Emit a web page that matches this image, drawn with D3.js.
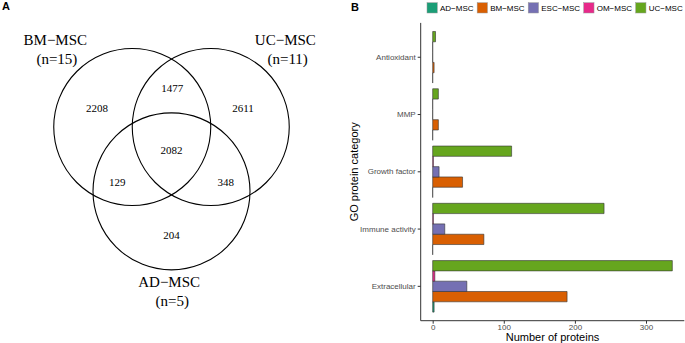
<!DOCTYPE html>
<html lang="en">
<head>
<meta charset="utf-8">
<script src="https://d3js.org/d3.v7.min.js"></script>
<style>
  body { margin: 0; background: #fff; }
  svg { display: block; }
</style>
</head>
<body>
<script>
// ---- data: panel A (Venn) ----
const vennSets = ["BM\u2212MSC", "UC\u2212MSC", "AD\u2212MSC"];
const vennSetN = ["(n=15)", "(n=11)", "(n=5)"];
const vennRegions = ["BM only", "BM+UC", "UC only", "all", "BM+AD", "UC+AD", "AD only"];
const vennCounts = [2208, 1477, 2611, 2082, 129, 348, 204];

// ---- data: panel B (bars) ----
const categories = ["Antioxidant", "MMP", "Growth factor", "Immune activity", "Extracellular"];
const groups = ["AD\u2212MSC", "BM\u2212MSC", "ESC\u2212MSC", "OM\u2212MSC", "UC\u2212MSC"];
const groupColors = ["#1B9E77", "#D95F02", "#7570B3", "#E7298A", "#66A61E"];
const adValues  = [0, 0, 0, 0, 2];
const bmValues  = [2, 8, 42, 72, 189];
const escValues = [0, 0, 9, 17, 48];
const omValues  = [0, 0, 1, 1, 3];
const ucValues  = [4, 8, 111, 241, 337];
const xTicks = [0, 100, 200, 300];

const W = 685, H = 343;
const svg = d3.select("body").append("svg").attr("width", W).attr("height", H);

// panel letters
svg.append("text").text("A").attr("x", 2).attr("y", 10)
  .style("font-family", "Liberation Sans, Arial").style("font-weight", "bold").style("font-size", "11px");
svg.append("text").text("B").attr("x", 351).attr("y", 10.5)
  .style("font-family", "Liberation Sans, Arial").style("font-weight", "bold").style("font-size", "11px");

// ================= Venn =================
// unit layout: radius 1
const vx = d3.scaleLinear().domain([0, 1]).range([171.5, 250]);
const vy = d3.scaleLinear().domain([0, 1]).range([127, 205.5]);
const circleCenters = [[-0.5, 0], [0.5, 0], [0, 0.82]];
const regionPos = [[-0.95, -0.24], [0.01, -0.5], [0.91, -0.24], [0, 0.29], [-0.69, 0.70], [0.69, 0.70], [0, 1.38]];
const setLabelPos = [[-1.48, -1.045], [1.45, -1.045], [-0.03, 2.04]];
const setNPos = [[-1.46, -0.80], [1.48, -0.80], [0.01, 2.28]];

const venn = svg.append("g");
venn.selectAll("circle").data(circleCenters).join("circle")
  .attr("cx", d => vx(d[0])).attr("cy", d => vy(d[1]))
  .attr("r", vx(1) - vx(0))
  .attr("fill", "none").attr("stroke", "#000").attr("stroke-width", 1.1);

venn.selectAll("text.count").data(vennCounts).join("text").attr("class", "count")
  .text(d => d)
  .attr("x", (d, i) => vx(regionPos[i][0])).attr("y", (d, i) => vy(regionPos[i][1]))
  .attr("dy", "0.35em").attr("text-anchor", "middle")
  .style("font-family", "Liberation Serif, Times New Roman").style("font-size", "11px");

venn.selectAll("text.set").data(vennSets).join("text").attr("class", "set")
  .text(d => d)
  .attr("x", (d, i) => vx(setLabelPos[i][0])).attr("y", (d, i) => vy(setLabelPos[i][1]))
  .attr("text-anchor", "middle")
  .style("font-family", "Liberation Serif, Times New Roman").style("font-size", "15px");

venn.selectAll("text.n").data(vennSetN).join("text").attr("class", "n")
  .text(d => d)
  .attr("x", (d, i) => vx(setNPos[i][0])).attr("y", (d, i) => vy(setNPos[i][1]))
  .attr("text-anchor", "middle")
  .style("font-family", "Liberation Serif, Times New Roman").style("font-size", "15px");

// ================= Bars =================
const seriesValues = [adValues, bmValues, escValues, omValues, ucValues];
const barData = [];
categories.forEach((c, ci) => {
  groups.forEach((g, gi) => barData.push({cat: c, grp: g, gi: gi, v: seriesValues[gi][ci]}));
});

const pLeft = 420.7, pRight = 684.3, pTop = 22.9, pBottom = 320.7;
const maxV = d3.max(seriesValues.flat());
const x = d3.scaleLinear().domain([-0.05 * maxV, maxV * 1.05]).range([pLeft, pRight]);
const y0 = d3.scaleBand().domain(categories).range([pTop, pBottom]).paddingInner(0).paddingOuter(0.1);
const step = y0.step();
const y1 = d3.scaleBand().domain(groups.slice().reverse()).range([0.05 * step, 0.95 * step]);

const font = "Liberation Sans, Arial";
const bars = svg.append("g");
bars.selectAll("path").data(barData).join("path")
  .attr("d", d => {
    const x0 = x(0), x1 = x(d.v);
    const yy = y0(d.cat) + y1(d.grp), h = y1.bandwidth();
    return `M${x0},${yy}H${x1}V${yy + h}H${x0}Z`;
  })
  .attr("fill", d => groupColors[d.gi])
  .attr("stroke", "#333").attr("stroke-width", 0.6);

// axes
const gx = svg.append("g").attr("transform", `translate(0,${pBottom})`)
  .call(d3.axisBottom(x).tickValues(xTicks).tickSize(3).tickPadding(0.5));
const gy = svg.append("g").attr("transform", `translate(${pLeft},0)`)
  .call(d3.axisLeft(y0).tickSize(3).tickPadding(2));
[gx, gy].forEach(g => {
  g.select(".domain").attr("stroke", "#333").attr("stroke-width", 1);
  g.selectAll(".tick line").attr("stroke", "#333");
  g.selectAll(".tick text").attr("fill", "#4D4D4D").style("font-family", font).style("font-size", "8px");
});
gx.select(".domain").attr("d", `M${pLeft},0H${pRight}`);
gy.select(".domain").attr("d", `M0,${pTop}V${pBottom}`);

svg.append("text").text("Number of proteins")
  .attr("x", (pLeft + pRight) / 2).attr("y", 340.5).attr("text-anchor", "middle")
  .style("font-family", font).style("font-size", "11px");
svg.append("text").text("GO protein category")
  .attr("transform", `translate(357.5,${(pTop + pBottom) / 2}) rotate(-90)`)
  .attr("text-anchor", "middle")
  .style("font-family", font).style("font-size", "11px");

// legend
const legend = svg.append("g");
let lx = 427;
groups.forEach((g, i) => {
  legend.append("rect").attr("x", lx).attr("y", 2.7).attr("width", 10.3).attr("height", 10.3)
    .attr("fill", groupColors[i]).attr("stroke", "#999").attr("stroke-width", 0.5);
  const t = legend.append("text").text(g).attr("x", lx + 13).attr("y", 10.8)
    .style("font-family", font).style("font-size", "8px").attr("fill", "#000");
  lx += 13 + t.node().getComputedTextLength() + 3.6;
});
</script>
</body>
</html>
